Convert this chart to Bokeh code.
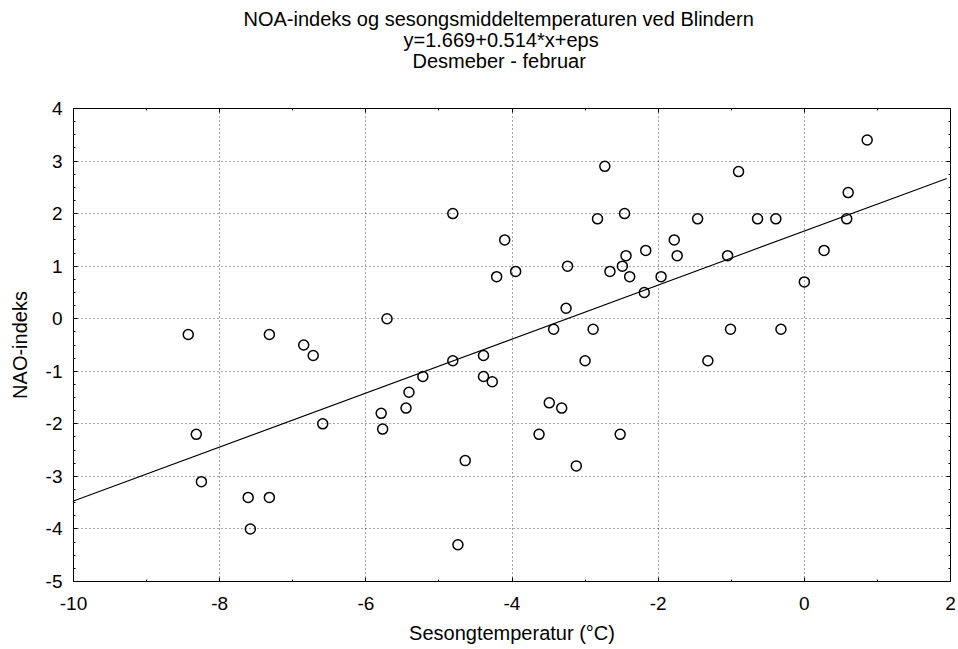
from bokeh.plotting import figure
from bokeh.models import (LinearAxis, Title, SingleIntervalTicker, Range1d,
                          CustomJSTickFormatter)
from bokeh.embed import file_html
from bokeh.resources import INLINE

# Data
temp = [-8.43, -7.32, -6.85, -6.72, -6.59, -8.32, -8.25, -7.61, -7.32, -7.58,
        -4.81, -4.10, -2.83, -2.46, -2.17, -2.44, -2.49, -2.66, -2.39, -3.24,
        -4.21, -3.95, -2.19, -1.96, -3.26, -5.71, -3.43, -2.89, -3.00, -4.39,
        -4.81, -5.22, -4.39, -4.27, -5.41, -3.49, 0.86, -0.90, 0.60, -1.46,
        -0.64, -0.39, 0.58, -1.78, -1.74, -1.05, 0.27, 0.00, -1.01, -0.32,
        -2.73, -5.79, -5.77, -5.45, -4.64, -4.74, -3.32, -3.63, -2.52, -3.12,
        -1.32]
nao = [-0.3, -0.3, -0.5, -0.7, -2.0, -2.2, -3.1, -3.4, -3.4, -4.0,
       2.0, 1.5, 1.9, 2.0, 1.3, 1.2, 1.0, 0.9, 0.8, 1.0,
       0.8, 0.9, 0.5, 0.8, 0.2, 0.0, -0.2, -0.2, -0.8, -0.7,
       -0.8, -1.1, -1.1, -1.2, -1.4, -1.6, 3.4, 2.8, 2.4, 1.9,
       1.9, 1.9, 1.9, 1.5, 1.2, 1.2, 1.3, 0.7, -0.2, -0.2,
       2.9, -1.8, -2.1, -1.7, -2.7, -4.3, -1.7, -2.2, -2.2, -2.8,
       -0.8]
fit_x = [-10.0, 1.95]
fit_y = [-3.47, 2.67]

title_lines = ["NOA-indeks og sesongsmiddeltemperaturen ved Blindern",
               "y=1.669+0.514*x+eps",
               "Desmeber - februar"]
title_shifts = [170, 330, 339]   # left-aligned offsets so the lines centre at ~499 px
x_label = "Sesongtemperatur (°C)"
y_label = "NAO-indeks"

FONT = "Liberation Sans"

p = figure(width=958, height=649, output_backend="svg", toolbar_location=None,
           title=None, x_range=Range1d(-10, 2), y_range=Range1d(-5, 4),
           min_border_left=73, min_border_right=8, min_border_top=108,
           min_border_bottom=68, background_fill_color="white",
           border_fill_color="white")
p.outline_line_color = "black"
p.outline_line_width = 1

xt = SingleIntervalTicker(interval=2, num_minor_ticks=2)
yt = SingleIntervalTicker(interval=1, num_minor_ticks=4)
fmt = CustomJSTickFormatter(code="return tick.toString()")
blank = CustomJSTickFormatter(code="return ''")

for ax in (p.xaxis[0], p.yaxis[0]):
    ax.formatter = fmt
    ax.major_tick_in = 4
    ax.major_tick_out = 0
    ax.minor_tick_in = 2
    ax.minor_tick_out = 0
    ax.axis_line_color = "black"
    ax.major_tick_line_color = "black"
    ax.minor_tick_line_color = "black"
    ax.major_label_text_font = FONT
    ax.major_label_text_font_size = "19px"
    ax.major_label_text_color = "black"
    ax.axis_label_text_font = FONT
    ax.axis_label_text_font_size = "20px"
    ax.axis_label_text_font_style = "normal"
    ax.axis_label_text_color = "black"

p.xaxis[0].ticker = xt
p.yaxis[0].ticker = yt
p.xaxis[0].axis_label = x_label
p.yaxis[0].axis_label = y_label
p.xaxis[0].major_label_standoff = 15
p.xaxis[0].axis_label_standoff = 9
p.yaxis[0].major_label_standoff = 11
p.yaxis[0].axis_label_standoff = 12

# tick marks on the top and right edges of the frame
for loc, tk in (("above", xt), ("right", yt)):
    p.add_layout(LinearAxis(ticker=tk, formatter=blank, major_label_standoff=0,
                            major_tick_in=4, major_tick_out=0,
                            minor_tick_in=2, minor_tick_out=0,
                            axis_line_color="black",
                            major_tick_line_color="black",
                            minor_tick_line_color="black"), loc)

# invisible spacer between the frame and the title block
p.add_layout(LinearAxis(ticker=xt, formatter=blank, major_label_standoff=0,
                        major_tick_in=0, major_tick_out=38,
                        minor_tick_in=0, minor_tick_out=0,
                        axis_line_color=None, major_tick_line_color=None,
                        minor_tick_line_color=None), "above")

p.xgrid.ticker = xt
p.ygrid.ticker = yt
for g in (p.xgrid[0], p.ygrid[0]):
    g.grid_line_color = "black"
    g.grid_line_dash = "1 3"
    g.grid_line_width = 1
    g.grid_line_alpha = 0.7

p.line(fit_x, fit_y, line_color="black", line_width=1.1)
p.scatter(temp, nao, marker="circle", size=10, fill_color=None,
          line_color="black", line_width=1.5)

# titles: first added is closest to the frame
for txt, off in zip(reversed(title_lines), reversed(title_shifts)):
    p.add_layout(Title(text=txt, align="left", offset=off, standoff=-3,
                       text_font=FONT, text_font_size="20px",
                       text_font_style="normal", text_color="black"), "above")

open("out.html", "w").write(file_html(p, INLINE))
